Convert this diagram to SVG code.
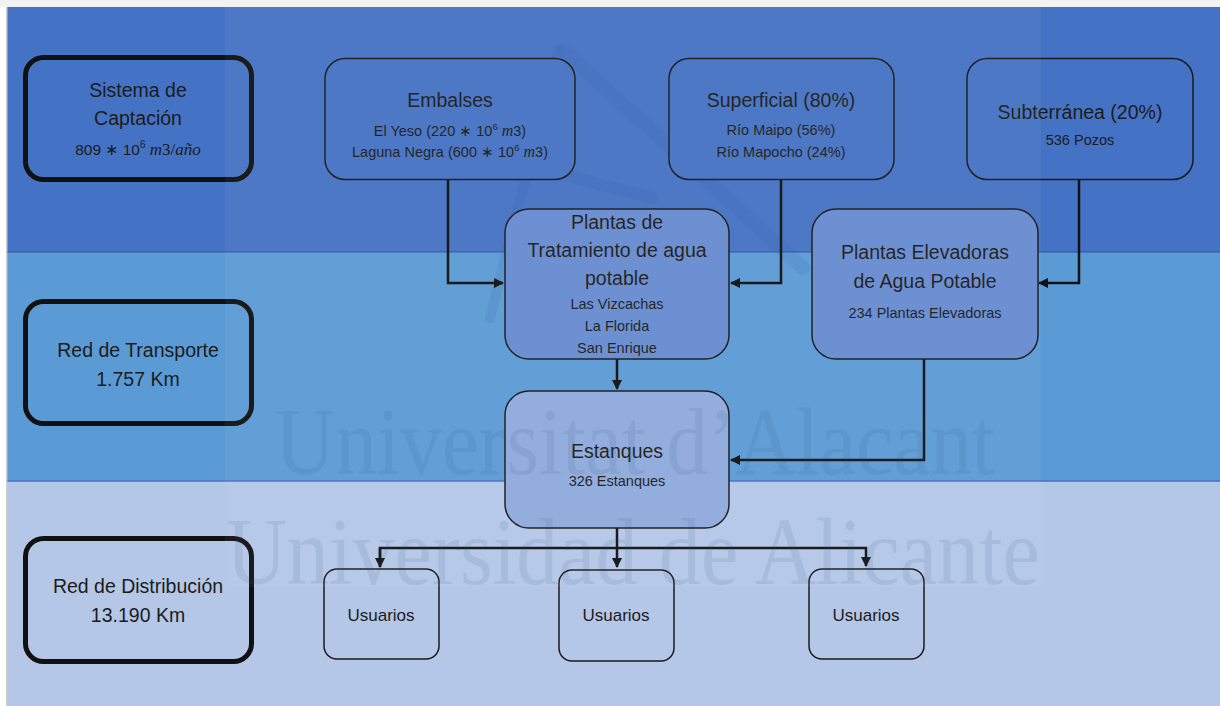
<svg xmlns="http://www.w3.org/2000/svg" width="1220" height="706" viewBox="0 0 1220 706">
  <defs>
    <style>
      .lbl { font-family: "Liberation Sans", Arial, sans-serif; fill: #1c1c1c; text-anchor: middle; }
      .big { font-size: 19.5px; }
      .sub { font-size: 14.5px; }
      .math { font-family: "Liberation Serif", "Times New Roman", serif; font-style: italic; }
      .level { fill: none; stroke: #111; stroke-width: 5; }
      .box { stroke: #1a1a1a; stroke-width: 1.5; }
      .wire { fill: none; stroke: #111; stroke-width: 2.5; }
      .wm { font-family: "Liberation Serif", "Times New Roman", serif; fill: #1F4E79; fill-opacity: 0.1; }
    </style>
    <marker id="arrow" viewBox="0 0 10 10" refX="9" refY="5" markerWidth="4" markerHeight="4" orient="auto" markerUnits="strokeWidth">
      <path d="M0,0 L10,5 L0,10 z" fill="#111"/>
    </marker>
  </defs>

  <!-- page background and bands -->
  <rect x="0" y="0" width="1220" height="706" fill="#ffffff"/>
  <rect x="0" y="0" width="1220" height="7" fill="#f2f2f2"/>
  <line x1="7" y1="7" x2="7" y2="706" stroke="#9a9a9a" stroke-width="1"/>
  <rect x="7.5" y="7" width="1212.5" height="245" fill="#4472C4"/>
  <rect x="7.5" y="252" width="1212.5" height="229" fill="#5B9BD5"/>
  <rect x="7.5" y="481" width="1212.5" height="225" fill="#B4C7E7"/>
  <line x1="7.5" y1="252" x2="1220" y2="252" stroke="#2F5597" stroke-width="1"/>
  <line x1="7.5" y1="481" x2="1220" y2="481" stroke="#4472C4" stroke-width="1.5"/>

  <!-- faint mountain emblem -->
  <g fill="none" stroke="#2B5AA6" stroke-opacity="0.14" stroke-linecap="round">
    <path d="M490,318 L558,50" stroke-width="10"/>
    <path d="M563,50 L803,268" stroke-width="14"/>
    <path d="M565,175 L652,198" stroke-width="12"/>
  </g>

  <!-- connectors -->
  <g id="connectors">
    <polyline class="wire" points="448,180 448,283 503,283" marker-end="url(#arrow)"/>
    <polyline class="wire" points="781,180 781,283 731,283" marker-end="url(#arrow)"/>
    <polyline class="wire" points="1079,180 1079,283 1039,283" marker-end="url(#arrow)"/>
    <polyline class="wire" points="617,359 617,389" marker-end="url(#arrow)"/>
    <polyline class="wire" points="924,359 924,460 731,460" marker-end="url(#arrow)"/>
    <polyline class="wire" points="617,528 617,567" marker-end="url(#arrow)"/>
    <polyline class="wire" points="380,566 380,548 866,548 866,566" marker-end="url(#arrow)"/>
    <polyline class="wire" points="380,548 380,567" marker-end="url(#arrow)"/>
  </g>

  <!-- level boxes -->
  <g id="sistema-captacion">
    <rect class="level" x="25.5" y="57.5" width="226" height="122" rx="18"/>
    <text class="lbl big" x="138" y="97">Sistema de</text>
    <text class="lbl big" x="138" y="125">Captación</text>
    <text class="lbl sub" x="138" y="155" style="font-size:15.5px">809 ∗ 10<tspan dy="-7" style="font-size:10px">6</tspan><tspan dy="7"> </tspan><tspan class="math" style="font-size:17px">m</tspan><tspan class="math" style="font-size:17px;font-style:normal">3/</tspan><tspan class="math" style="font-size:17px">año</tspan></text>
  </g>
  <g id="red-transporte">
    <rect class="level" x="25.5" y="301.5" width="226" height="122" rx="18"/>
    <text class="lbl big" x="138" y="357">Red de Transporte</text>
    <text class="lbl big" x="138" y="386">1.757 Km</text>
  </g>
  <g id="red-distribucion">
    <rect class="level" x="25.5" y="538.5" width="226" height="123" rx="18"/>
    <text class="lbl big" x="138" y="593">Red de Distribución</text>
    <text class="lbl big" x="138" y="622">13.190 Km</text>
  </g>

  <!-- sources -->
  <g id="embalses">
    <rect class="box" x="325" y="58.5" width="250" height="121" rx="20" fill="#4472C4"/>
    <text class="lbl big" x="450" y="107">Embalses</text>
    <text class="lbl sub" x="450" y="136">El Yeso (220 ∗ 10<tspan dy="-6" style="font-size:9.5px">6</tspan><tspan dy="6"> </tspan><tspan class="math" style="font-size:16px">m</tspan>3)</text>
    <text class="lbl sub" x="450" y="157">Laguna Negra (600 ∗ 10<tspan dy="-6" style="font-size:9.5px">6</tspan><tspan dy="6"> </tspan><tspan class="math" style="font-size:16px">m</tspan>3)</text>
  </g>
  <g id="superficial">
    <rect class="box" x="669" y="58.5" width="225" height="121" rx="20" fill="#4472C4"/>
    <text class="lbl big" x="781" y="107">Superficial (80%)</text>
    <text class="lbl sub" x="781" y="135">Río Maipo (56%)</text>
    <text class="lbl sub" x="781" y="157">Río Mapocho (24%)</text>
  </g>
  <g id="subterranea">
    <rect class="box" x="967" y="58.5" width="226" height="121" rx="20" fill="#4472C4"/>
    <text class="lbl big" x="1080" y="119">Subterránea (20%)</text>
    <text class="lbl sub" x="1080" y="145">536 Pozos</text>
  </g>

  <!-- plants -->
  <g id="plantas-tratamiento">
    <rect class="box" x="505" y="209" width="224" height="150" rx="24" fill="#678CD0"/>
    <text class="lbl big" x="617" y="229">Plantas de</text>
    <text class="lbl big" x="617" y="257">Tratamiento de agua</text>
    <text class="lbl big" x="617" y="285">potable</text>
    <text class="lbl sub" x="617" y="309">Las Vizcachas</text>
    <text class="lbl sub" x="617" y="331">La Florida</text>
    <text class="lbl sub" x="617" y="353">San Enrique</text>
  </g>
  <g id="plantas-elevadoras">
    <rect class="box" x="812" y="209" width="226" height="150" rx="24" fill="#678CD0"/>
    <text class="lbl big" x="925" y="259">Plantas Elevadoras</text>
    <text class="lbl big" x="925" y="288">de Agua Potable</text>
    <text class="lbl sub" x="925" y="318">234 Plantas Elevadoras</text>
  </g>

  <!-- storage -->
  <g id="estanques">
    <rect class="box" x="505" y="391" width="224" height="137" rx="24" fill="#8FAADC"/>
    <text class="lbl big" x="617" y="458">Estanques</text>
    <text class="lbl sub" x="617" y="486">326 Estanques</text>
  </g>

  <!-- consumers -->
  <g id="usuarios-1">
    <rect class="box" x="324" y="569" width="115" height="90" rx="13" fill="#B4C7E7"/>
    <text class="lbl" x="381" y="621" style="font-size:17px">Usuarios</text>
  </g>
  <g id="usuarios-2">
    <rect class="box" x="559" y="570" width="115" height="91" rx="13" fill="#B4C7E7"/>
    <text class="lbl" x="616" y="621" style="font-size:17px">Usuarios</text>
  </g>
  <g id="usuarios-3">
    <rect class="box" x="809" y="569" width="115" height="90" rx="13" fill="#B4C7E7"/>
    <text class="lbl" x="866" y="621" style="font-size:17px">Usuarios</text>
  </g>

  <!-- watermark panel and lettering -->
  <rect x="225" y="7" width="816" height="580" fill="#ffffff" fill-opacity="0.045"/>
  <text class="wm" x="275" y="474" font-size="96" textLength="720" lengthAdjust="spacingAndGlyphs">Universitat d’Alacant</text>
  <text class="wm" x="226" y="584" font-size="96" textLength="814" lengthAdjust="spacingAndGlyphs">Universidad de Alicante</text>
</svg>
